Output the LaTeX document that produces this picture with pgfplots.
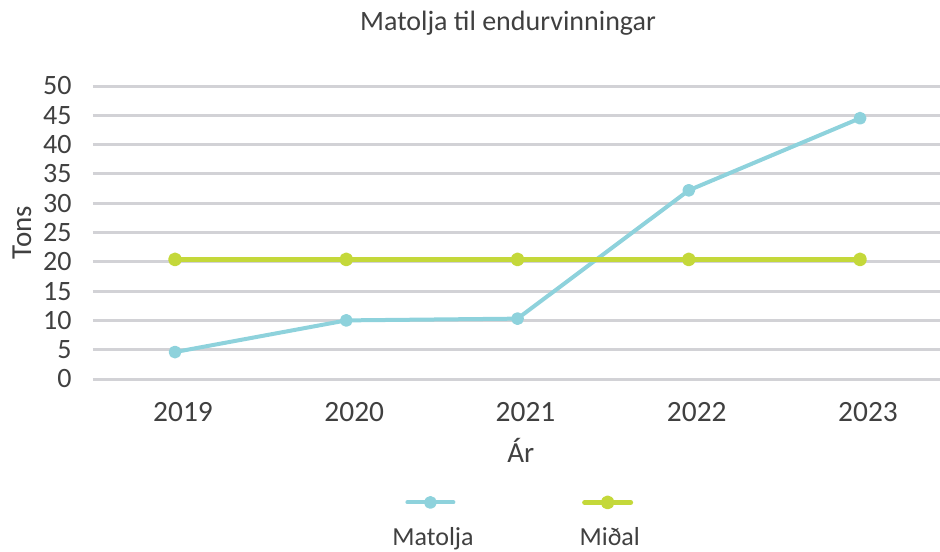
\documentclass[border=0pt]{standalone}
\usepackage{fontspec}
\setmainfont{Carlito}
\usepackage{pgfplots}
\pgfplotsset{compat=1.18}
\usetikzlibrary{calc}
\definecolor{teal1}{HTML}{8ED2DC}
\definecolor{lime1}{HTML}{C4D83A}
\definecolor{txt}{HTML}{404040}
\definecolor{gridc}{HTML}{D2D2D6}
\pgfplotsset{
  legA/.style={legend image code/.code={\draw[overlay,mark repeat=2,mark phase=2,##1] plot coordinates {(7.5pt,21.5pt) (19pt,21.5pt) (30.5pt,21.5pt)};}},
  legB/.style={legend image code/.code={\draw[overlay,mark repeat=2,mark phase=2,##1] plot coordinates {(2.5pt,21.5pt) (14pt,21.5pt) (25.5pt,21.5pt)};}},
}
\begin{document}
\begin{tikzpicture}
\begin{axis}[
  scale only axis, width=423.5pt, height=146.5pt,
  xmin=-0.479, xmax=4.467, ymin=0, ymax=50,
  xtick={0,1,2,3,4}, xticklabels={2019,2020,2021,2022,2023},
  ytick={0,5,...,50},
  ymajorgrids, major grid style={gridc, line width=1.5pt},
  axis line style={draw=none}, major tick length=0pt, tick style={draw=none},
  clip=false,
  /pgf/number format/assume math mode=true,
  ticklabel style={font=\fontsize{14}{16}\selectfont, text=txt},
  yticklabel style={anchor=east, inner sep=0pt, xshift=-10.5pt},
  xticklabel style={anchor=base, inner sep=0pt, yshift=-21pt, xshift=4pt, font=\fontsize{14.7}{16}\selectfont},
  title={Matolja til endurvinningar},
  title style={at={(axis description cs:0.49,1)}, anchor=base, inner sep=0pt, yshift=22pt, font=\fontsize{14}{16}\selectfont, text=txt},
  xlabel={Ár},
  xlabel style={at={(axis description cs:0.505,0)}, anchor=base, inner sep=0pt, yshift=-41.5pt, font=\fontsize{14.5}{16}\selectfont, text=txt},
  ylabel={Tons},
  ylabel style={at={(axis description cs:-0.0838,0.5)}, anchor=center, inner sep=0pt, font=\fontsize{14.5}{16}\selectfont, text=txt},
  legend columns=2,
  legend style={at={(axis description cs:0,0)}, anchor=north west, xshift=149.5pt, yshift=-74pt,
    draw=none, fill=none, inner sep=0pt, font=\fontsize{13}{15}\selectfont, text=txt,
    /tikz/column sep=0pt, /tikz/column 2/.style={column sep=53pt},
    cells={anchor=base west}, nodes={inner sep=0pt}},
]
\addplot[teal1, line width=2pt, line cap=round, line join=round, mark=*, mark size=2.2pt,
  mark options={solid, fill=teal1, draw=teal1}, legA]
  coordinates {(0,4.6) (1,10) (2,10.3) (3,32.2) (4,44.5)};
\addlegendentry{Matolja}
\addplot[lime1, line width=2.5pt, line cap=round, line join=round, mark=*, mark size=2.2pt,
  mark options={solid, fill=lime1, draw=lime1}, legB]
  coordinates {(0,20.4) (1,20.4) (2,20.4) (3,20.4) (4,20.4)};
\addlegendentry{Miðal}
\end{axis}
\pgfresetboundingbox
\path[use as bounding box] ($(current axis.south west)+(-46.5pt,-86.5pt)$) rectangle ($(current axis.north east)+(0pt,43pt)$);
\end{tikzpicture}
\end{document}
